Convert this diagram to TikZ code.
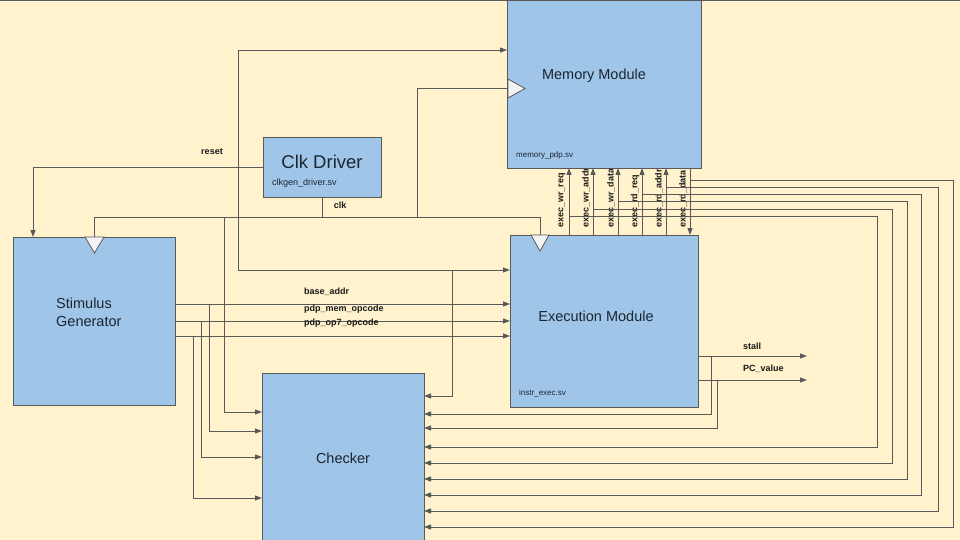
\documentclass[tikz,border=0pt]{standalone}
\usepackage{fontspec}
\setmainfont{Liberation Sans}
\usetikzlibrary{arrows.meta}
\definecolor{bg}{HTML}{FFF2CC}
\definecolor{boxc}{HTML}{9FC5E8}
\definecolor{linec}{HTML}{595959}
\definecolor{tric}{HTML}{F3F3F3}
\definecolor{txtc}{HTML}{1B2633}
\definecolor{lblc}{HTML}{1A1A1A}
\begin{document}
\begin{tikzpicture}[x=1pt,y=-1pt,
  box/.style={draw=linec, fill=boxc, line width=0.9pt, inner sep=0pt, outer sep=0pt},
  wire/.style={draw=linec, line width=0.9pt},
  arr/.style={wire, -{Triangle[length=7pt,width=5pt]}},
  big/.style={font=\fontsize{14.5}{18}\selectfont, text=txtc, inner sep=0pt},
  huge/.style={font=\fontsize{18.5}{22}\selectfont, text=txtc, inner sep=0pt},
  small/.style={font=\fontsize{8}{10}\selectfont, text=txtc, inner sep=0pt},
  smallb/.style={font=\fontsize{9}{11}\selectfont, text=txtc, inner sep=0pt},
  lbl/.style={font=\bfseries\fontsize{9}{11}\selectfont, text=lblc, inner sep=0pt},
  vlbl/.style={font=\bfseries\fontsize{9}{11}\selectfont, text=lblc, inner sep=0pt, rotate=90, anchor=west},
  clktri/.style={draw=linec, fill=tric, line width=0.8pt}]
\useasboundingbox (0,0) rectangle (960,540);
\clip (0,0) rectangle (960,540);
\fill[bg] (0,0) rectangle (960,540);
\draw[linec, line width=1.4pt] (0,0.7) -- (960,0.7);

% rotated signal labels (partly under the memory box)
\node[vlbl] (l1) at (562,228) {exec\_wr\_req};
\node[vlbl] (l2) at (586,228) {exec\_wr\_addr};
\node[vlbl] (l3) at (611,228) {exec\_wr\_data};
\node[vlbl] (l4) at (635,228) {exec\_rd\_req};
\node[vlbl] (l5) at (659,228) {exec\_rd\_addr};
\node[vlbl] (l6) at (683,228) {exec\_rd\_data};

% boxes
\node[box, minimum width=194pt, minimum height=168pt] (mem) at (604,84) {};
\node[box, minimum width=118pt, minimum height=60pt] (clkd) at (322,167) {};
\node[box, minimum width=162pt, minimum height=168pt] (stim) at (94,321) {};
\node[box, minimum width=188pt, minimum height=172pt] (exec) at (604,321) {};
\node[box, minimum width=162pt, minimum height=180pt] (chk) at (343,463) {};

% reset
\draw[arr] (clkd.west) -- (33,167) -- (33,237);
\draw[arr] (238,167) -- (238,50) -- (507,50);
\draw[arr] (238,167) -- (238,270) -- (510,270);
\draw[arr] (452,270) -- (452,396) -- (424,396);

% clock
\draw[wire] (clkd.south) -- (322,217);
\draw[wire] (94,237) -- (94,217) -- (540,217) -- (540,235);
\draw[wire] (417,217) -- (417,88) -- (508,88);
\draw[arr] (224,217) -- (224,412) -- (262,412);

% stimulus outputs
\draw[arr] (175,304) -- (510,304);
\draw[arr] (175,321) -- (510,321);
\draw[arr] (175,336) -- (510,336);
\draw[arr] (209,304) -- (209,431) -- (262,431);
\draw[arr] (201,321) -- (201,457) -- (262,457);
\draw[arr] (193,336) -- (193,498) -- (262,498);

% execution outputs
\draw[arr] (698,356) -- (807,356);
\draw[arr] (698,380) -- (807,380);
\draw[arr] (711,356) -- (711,414) -- (424,414);
\draw[arr] (717,380) -- (717,428) -- (424,428);

% memory <-> execution
\draw[arr] (569,235) -- (569,168);
\draw[arr] (593,235) -- (593,168);
\draw[arr] (618,235) -- (618,168);
\draw[arr] (642,235) -- (642,168);
\draw[arr] (666,235) -- (666,168);
\draw[arr] (690,168) -- (690,235);
\draw[arr] (690,180) -- (953,180) -- (953,527) -- (424,527);
\draw[arr] (666,187) -- (938,187) -- (938,511) -- (424,511);
\draw[arr] (642,194) -- (921,194) -- (921,495) -- (424,495);
\draw[arr] (618,201) -- (907,201) -- (907,479) -- (424,479);
\draw[arr] (593,209) -- (892,209) -- (892,463) -- (424,463);
\draw[arr] (569,216) -- (877,216) -- (877,447) -- (424,447);

% clock triangles
\draw[clktri] (508,79) -- (508,98) -- (525,88.5) -- cycle;
\draw[clktri] (85,237) -- (104,237) -- (94.5,253) -- cycle;
\draw[clktri] (531,235) -- (549,235) -- (540,251) -- cycle;

% box texts
\node[big] (memt) at (594,76) {Memory Module};
\node[small, anchor=west] (memf) at (516,155) {memory\_pdp.sv};
\node[huge] (clkt) at (322,162) {Clk Driver};
\node[smallb, anchor=west] (clkf) at (272,183) {clkgen\_driver.sv};
\node[big, anchor=west, align=left] (stimt) at (56,312) {Stimulus\\Generator};
\node[big] (exect) at (596,316) {Execution Module};
\node[small, anchor=west] (execf) at (519,393) {instr\_exec.sv};
\node[big] (chkt) at (343,458) {Checker};

% wire labels
\node[lbl] (lreset) at (212,152) {reset};
\node[lbl] (lclk) at (340,205) {clk};
\node[lbl, anchor=west] (lbase) at (304,292) {base\_addr};
\node[lbl, anchor=west] (lmem) at (304,309) {pdp\_mem\_opcode};
\node[lbl, anchor=west] (lop7) at (304,323) {pdp\_op7\_opcode};
\node[lbl, anchor=west] (lstall) at (743,346) {stall};
\node[lbl, anchor=west] (lpc) at (743,369) {PC\_value};
\end{tikzpicture}
\end{document}
